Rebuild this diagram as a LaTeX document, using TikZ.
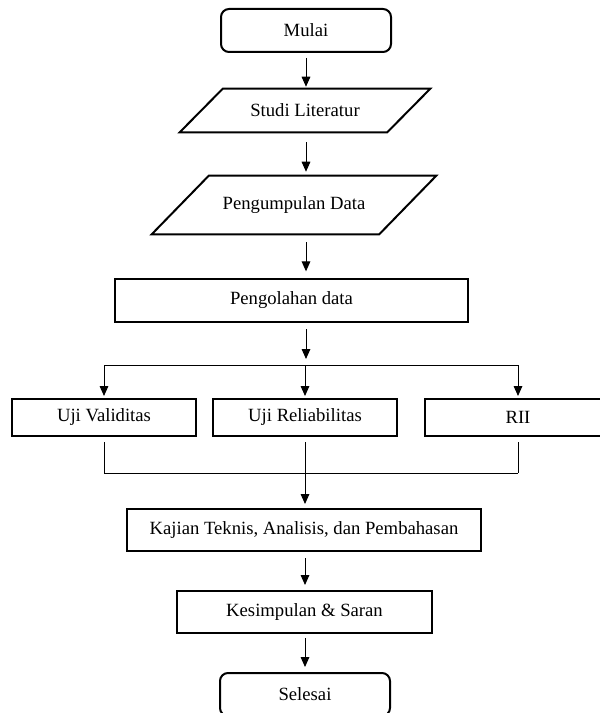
\documentclass[tikz,border=0pt]{standalone}
\usepackage{fontspec}
\setmainfont{Liberation Serif}
\usetikzlibrary{arrows.meta,calc}

\tikzset{
  box/.style={draw, line width=1.5pt, rectangle, inner sep=0pt, minimum height=27.75pt},
  ujung/.style={draw, line width=1.5pt, rectangle, rounded corners=6pt, inner sep=0pt,
    minimum width=127.5pt, minimum height=32.25pt},
  jajar/.style={rectangle, inner sep=0pt},
  arr/.style={-{Triangle[length=7.5pt,width=6.5pt]}, line width=0.75pt},
  garis/.style={line width=0.75pt}
}

\begin{document}
\begin{tikzpicture}[x=0.75pt,y=-0.75pt,font=\fontsize{14pt}{16pt}\selectfont]
\useasboundingbox (0,0) rectangle (599,713);

% nodes
\node [ujung] (mulai) at (306,30.5) {Mulai};
\node [jajar, minimum width=155.25pt, minimum height=32.25pt] (studi) at (305,110.5) {Studi Literatur};
\node [jajar, minimum width=170.25pt, minimum height=43.5pt] (kumpul) at (294,205) {Pengumpulan Data};
\node [box, minimum width=264.75pt, minimum height=32.25pt] (olah) at (291.5,300.5) {Pengolahan data};

\node [box, minimum width=138pt] (validitas) at (104,417.5) {Uji Validitas};
\node [box, minimum width=138pt] (reliabilitas) at (305,417.5) {Uji Reliabilitas};
\node [box, minimum width=139.5pt] (rii) at (518,417.5) {RII};

\node [box, minimum width=265.5pt, minimum height=31.5pt] (kajian) at (304,530) {Kajian Teknis, Analisis, dan Pembahasan};
\node [box, minimum width=191.25pt, minimum height=31.5pt] (simpul) at (304.5,612) {Kesimpulan \& Saran};
\node [ujung] (selesai) at (305,694.5) {Selesai};

\coordinate (cabang) at (306,365);
\coordinate (gabung) at (305,473);

% parallelograms
\draw [line width=1.5pt] ($(studi.north west)+(21.5,0)$) -- ($(studi.north east)+(21.5,0)$)
  -- ($(studi.south east)+(-21.5,0)$) -- ($(studi.south west)+(-21.5,0)$) -- cycle;
\draw [line width=1.5pt] ($(kumpul.north west)+(28.5,0)$) -- ($(kumpul.north east)+(28.5,0)$)
  -- ($(kumpul.south east)+(-28.5,0)$) -- ($(kumpul.south west)+(-28.5,0)$) -- cycle;

% arrows
\draw [arr, shorten <=3.75pt, shorten >=1.5pt] (mulai.south) -- (mulai.south |- studi.north);
\draw [arr, shorten <=7.5pt, shorten >=3pt] (mulai.south |- studi.south) -- (mulai.south |- kumpul.north);
\draw [arr, shorten <=6pt, shorten >=5pt] (mulai.south |- kumpul.south) -- (mulai.south |- olah.north);
\draw [arr, shorten <=4.5pt, shorten >=4.5pt] (mulai.south |- olah.south) -- (cabang);

\draw [garis] (validitas.north |- cabang) -- (rii.north |- cabang);
\draw [arr, shorten >=1.5pt] (validitas.north |- cabang) -- (validitas.north);
\draw [arr, shorten >=1.5pt] (reliabilitas.north |- cabang) -- (reliabilitas.north);
\draw [arr, shorten >=1.5pt] (rii.north |- cabang) -- (rii.north);

\draw [garis, shorten <=3.75pt] (validitas.south) -- (validitas.south |- gabung);
\draw [garis, shorten <=3.75pt] (reliabilitas.south) -- (reliabilitas.south |- gabung);
\draw [garis, shorten <=3.75pt] (rii.south) -- (rii.south |- gabung);
\draw [garis] (validitas.south |- gabung) -- (rii.south |- gabung);

\draw [arr, shorten >=3pt] (gabung) -- (gabung |- kajian.north);
\draw [arr, shorten <=4.5pt, shorten >=3.75pt] (gabung |- kajian.south) -- (gabung |- simpul.north);
\draw [arr, shorten <=3pt, shorten >=3.75pt] (gabung |- simpul.south) -- (gabung |- selesai.north);

\end{tikzpicture}
\end{document}
